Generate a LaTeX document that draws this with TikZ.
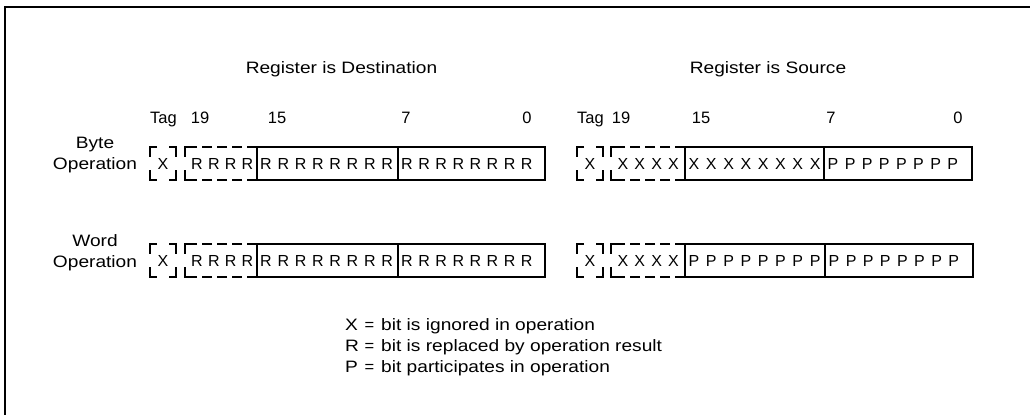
\documentclass[tikz,border=0pt]{standalone}
\usepackage{fontspec}
\setmainfont{Liberation Sans}
\newfontfamily\widefont{Liberation Sans}[FakeStretch=1.16]

% tag box: name, x1, x2, y1, y2, letter
\newcommand\regtagbox[6]{%
  \draw[edge] ({#2+7},#4) -- (#2,#4) -- (#2,{#4+10});
  \draw[edge] (#2,{#5-10}) -- (#2,#5) -- ({#2+7},#5);
  \draw[edge] ({#3-7},#4) -- (#3,#4) -- (#3,{#4+10});
  \draw[edge] (#3,{#5-10}) -- (#3,#5) -- ({#3-7},#5);
  \node[bit] (#1) at ({(#2+#3)/2},{(#4+#5)/2}) {#6};
}
% extension box: name, x1, x2, y1, y2, letter
\newcommand\regextbox[6]{%
  \draw[edge] ({#2+8},#4) -- (#2,#4) -- (#2,{#4+10});
  \draw[edge] (#2,{#5-10}) -- (#2,#5) -- ({#2+8},#5);
  \draw[edge,dash pattern=on 10pt off 5pt] (#3,#4) -- ({#2+8},#4);
  \draw[edge,dash pattern=on 10pt off 5pt] (#3,#5) -- ({#2+8},#5);
  \foreach \i in {0,...,3} \node[bit] (#1\i) at ({#2+12+16.8*\i},{(#4+#5)/2}) {#6};
}
% main box: name, x1, xm, x2, y1, y2, letterA, letterB
\newcommand\regmainbox[8]{%
  \draw[edge] (#2,#5) rectangle (#4,#6);
  \draw[edge] (#3,#5) -- (#3,#6);
  \foreach \i in {0,...,7} {
    \node[bit] (#1a\i) at ({#2+9+17.3*\i},{(#5+#6)/2}) {#7};
    \node[bit] (#1b\i) at ({#3+9+17.1*\i},{(#5+#6)/2}) {#8};
  }
}

\begin{document}
\begin{tikzpicture}[x=1pt,y=-1pt,
  hdr/.style={font=\widefont\fontsize{16.5}{18}\selectfont, inner sep=0pt},
  lbl/.style={font=\fontsize{16.5}{18}\selectfont, inner sep=0pt},
  bit/.style={font=\fontsize{16}{18}\selectfont, inner sep=0pt},
  frame/.style={line width=2pt},
  edge/.style={line width=1.6pt}]
\useasboundingbox (0,0) rectangle (1030,415);

% frame
\draw[frame] (1030,7) -- (5,7) -- (5,415);

% headings
\node[hdr,anchor=base] (dest) at (341.5,73) {Register is Destination};
\node[hdr,anchor=base] (src)  at (768,73) {Register is Source};

% bit position labels
\node[lbl,anchor=base west] (dtag) at (150,123) {Tag};
\node[lbl,anchor=base] (d19) at (200,123) {19};
\node[lbl,anchor=base] (d15) at (277,123) {15};
\node[lbl,anchor=base] (d7)  at (406,123) {7};
\node[lbl,anchor=base] (d0)  at (527,123) {0};
\node[lbl,anchor=base west] (stag) at (577,123) {Tag};
\node[lbl,anchor=base] (s19) at (621,123) {19};
\node[lbl,anchor=base] (s15) at (701,123) {15};
\node[lbl,anchor=base] (s7)  at (831,123) {7};
\node[lbl,anchor=base] (s0)  at (958,123) {0};

% row labels
\node[hdr,anchor=base] (byte)   at (95,148) {Byte};
\node[hdr,anchor=base] (byteop) at (95,169) {Operation};
\node[hdr,anchor=base] (word)   at (95,246) {Word};
\node[hdr,anchor=base] (wordop) at (95,267) {Operation};

% byte operation row
\regtagbox{bdt}{150}{176}{147}{180}{X}
\regextbox{bde}{185}{257}{147}{180}{R}
\regmainbox{bdm}{257}{398}{545}{147}{180}{R}{R}
\regtagbox{bst}{577}{603}{147}{180}{X}
\regextbox{bse}{611}{685}{147}{180}{X}
\regmainbox{bsm}{685}{824}{972}{147}{180}{X}{P}

% word operation row
\regtagbox{wdt}{150}{176}{244}{277}{X}
\regextbox{wde}{185}{257}{244}{277}{R}
\regmainbox{wdm}{257}{398}{545}{244}{277}{R}{R}
\regtagbox{wst}{577}{603}{244}{277}{X}
\regextbox{wse}{611}{685}{244}{277}{X}
\regmainbox{wsm}{685}{825}{973}{244}{277}{P}{P}

% legend
\node[hdr,anchor=base west] (lx)  at (345,330) {X};
\node[lbl,anchor=base] (lxe) at (369.5,330) {=};
\node[hdr,anchor=base west] (lxt) at (381,330) {bit is ignored in operation};
\node[hdr,anchor=base west] (lr)  at (345,351) {R};
\node[lbl,anchor=base] (lre) at (369.5,351) {=};
\node[hdr,anchor=base west] (lrt) at (381,351) {bit is replaced by operation result};
\node[hdr,anchor=base west] (lp)  at (345,372) {P};
\node[lbl,anchor=base] (lpe) at (369.5,372) {=};
\node[hdr,anchor=base west] (lpt) at (381,372) {bit participates in operation};
\end{tikzpicture}
\end{document}
